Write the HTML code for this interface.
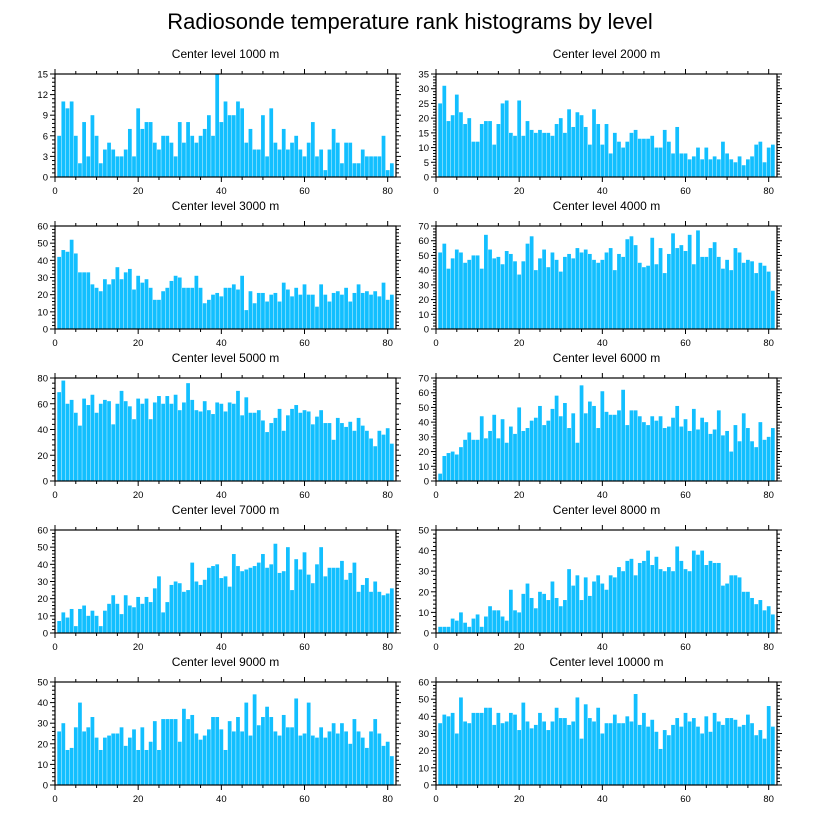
<!DOCTYPE html>
<html><head><meta charset="utf-8"><style>
body{margin:0;background:#fff;}
svg text{font-family:"Liberation Sans",sans-serif;fill:#000;}
</style></head><body>
<svg id="chart" width="816" height="824" xmlns="http://www.w3.org/2000/svg">
<text x="410" y="29" font-size="22" text-anchor="middle">Radiosonde temperature rank histograms by level</text>
</svg>
<script>
const levels = ["1000","2000","3000","4000","5000","6000","7000","8000","9000","10000"];
const yMaxes = [15,35,60,70,80,70,60,50,50,60];
const yMajors = [3,5,10,10,20,10,10,10,10,10];
const xTicks = [0,20,40,60,80];
const c1000 = [6,11,10,11,6,2,8,3,9,6,2,4,5,4,3,3,4,7,3,10,7,8,8,5,4,6,6,5,3,8,5,8,6,5,6,7,9,6,15,8,11,9,9,11,10,5,7,4,4,9,3,10,5,4,7,4,5,6,4,3,5,8,3,4,1,4,7,5,2,5,5,2,2,4,3,3,3,3,6,1,2];
const c2000 = [25,31,19,21,28,22,18,20,12,12,18,19,19,11,18,25,26,15,14,26,14,19,16,15,16,15,15,14,18,20,15,23,17,22,21,17,11,23,18,11,18,8,15,12,10,12,15,16,13,13,13,14,10,10,16,12,8,17,8,8,6,7,10,6,10,6,7,6,12,8,6,5,7,4,6,7,11,12,5,10,11];
const c3000 = [42,46,45,52,44,33,33,33,26,24,22,29,26,29,36,29,33,35,23,31,27,29,24,17,17,22,24,28,31,30,24,24,24,31,24,15,17,20,21,19,24,24,26,23,31,11,22,15,21,21,16,20,21,16,27,23,19,24,20,26,20,20,13,26,20,16,21,22,20,24,16,21,26,21,22,20,22,19,27,17,20];
const c4000 = [52,58,41,48,54,52,45,47,50,50,41,64,54,48,49,44,53,51,46,37,46,58,63,40,48,54,42,52,47,39,49,51,48,55,52,54,51,47,45,47,52,55,40,51,49,61,63,57,45,42,43,62,44,55,38,51,65,55,57,53,64,44,67,49,49,55,59,49,41,47,40,55,52,45,47,46,38,45,43,39,26];
const c5000 = [69,78,60,63,53,43,64,59,67,53,60,63,62,44,60,70,62,58,48,64,60,64,48,61,66,60,66,60,67,55,61,76,63,55,54,62,55,52,61,60,54,61,60,70,51,65,53,53,55,47,38,45,49,56,39,51,56,59,53,55,54,44,50,55,45,45,32,49,45,42,46,39,49,43,39,33,27,39,36,41,29];
const c6000 = [5,17,19,20,18,23,28,33,28,28,44,29,34,45,29,42,26,37,32,50,34,36,41,43,51,38,41,49,58,44,53,36,46,26,65,46,54,51,36,61,47,45,45,48,62,38,48,48,44,40,38,44,41,44,36,37,43,51,37,42,34,49,35,43,40,32,35,48,31,34,20,38,27,46,36,27,23,40,28,30,36];
const c7000 = [7,12,9,14,4,14,16,10,13,10,4,13,17,22,17,11,22,16,15,21,17,21,18,26,33,12,18,28,30,29,24,25,41,30,28,31,38,39,40,32,33,27,46,39,36,37,38,39,41,46,38,40,52,35,36,50,25,43,37,47,34,29,40,50,33,38,38,38,42,31,35,41,24,28,32,24,30,24,22,23,26];
const c8000 = [3,3,3,7,6,10,5,3,7,9,3,8,13,11,11,8,6,21,11,10,19,24,17,12,20,19,16,25,17,13,16,31,23,28,16,27,18,25,28,24,21,28,27,32,30,35,36,28,34,35,40,33,37,31,30,32,30,42,35,31,30,40,38,40,33,35,34,34,23,24,28,28,27,20,20,17,14,16,11,13,9];
const c9000 = [26,30,17,18,28,40,26,28,33,23,17,23,24,25,25,28,19,23,27,17,28,17,21,31,17,32,32,32,32,21,37,32,34,25,22,24,27,33,33,27,17,31,26,33,26,40,24,44,29,33,38,33,26,24,34,28,28,42,24,25,40,24,23,28,23,26,30,25,30,26,20,32,26,23,18,26,32,25,19,21,14];
const c10000 = [36,41,40,42,30,51,37,36,42,42,42,45,45,35,42,36,37,42,41,32,48,37,33,35,42,37,32,37,45,39,39,35,37,51,27,47,39,37,45,30,36,36,41,36,36,40,37,53,35,42,34,38,31,21,32,29,35,39,34,42,37,39,34,30,40,31,42,37,35,39,39,38,34,35,41,36,29,32,27,46,34];
const seriesList = [c1000,c2000,c3000,c4000,c5000,c6000,c7000,c8000,c9000,c10000];

const NS="http://www.w3.org/2000/svg";
const svg=document.getElementById('chart');
function mk(tag,attrs,parent){const e=document.createElementNS(NS,tag);for(const k in attrs)e.setAttribute(k,attrs[k]);(parent||svg).appendChild(e);return e;}
const PW=341, PH=103, XMAX=82;
for(let p=0;p<10;p++){
  const col=p%2,row=Math.floor(p/2);
  const L=col?436:55, T=74+row*152;
  const g=mk('g',{});
  
  
  const ymax=yMaxes[p], maj=yMajors[p], data=seriesList[p];
  const xs=v=>L+v/XMAX*PW, ys=v=>T+PH-v/ymax*PH;
  const t=mk('text',{x:L+PW/2,y:T-16,'font-size':12,'text-anchor':'middle'},g);
  t.textContent='Center level '+levels[p]+' m';
  
  
  data.forEach((v,i)=>{
    const x=i+1;
    const r=mk('rect',{x:xs(x-0.45),y:ys(v),width:xs(0.9)-xs(0),height:ys(0)-ys(v),fill:'#12BFFF'},g);
    
    
  });
  mk('rect',{x:L,y:T,width:PW,height:PH,fill:'none',stroke:'#000','stroke-width':1.2},g);
  for(let v=0;v<=80;v+=5){
    const len=(v%20===0)?5:3, X=xs(v);
    mk('line',{x1:X,x2:X,y1:T+PH,y2:T+PH+len,stroke:'#000','stroke-width':1},g);
    mk('line',{x1:X,x2:X,y1:T,y2:T-len,stroke:'#000','stroke-width':1},g);
  }
  xTicks.forEach(v=>{
    const tl=mk('text',{x:xs(v),y:T+PH+17,'font-size':9.5,'text-anchor':'middle'},g);
    tl.textContent=v;
    
    
  });
  const step=maj/5;
  for(let k=0;k*step<=ymax+1e-9;k++){
    const v=k*step, Y=ys(v), isMaj=(k%5===0), len=isMaj?5:3;
    mk('line',{x1:L-len,x2:L,y1:Y,y2:Y,stroke:'#000','stroke-width':1},g);
    mk('line',{x1:L+PW,x2:L+PW+len,y1:Y,y2:Y,stroke:'#000','stroke-width':1},g);
    if(isMaj){
      const yl=mk('text',{x:L-7,y:Y+3.5,'font-size':9.5,'text-anchor':'end'},g);
      yl.textContent=Math.round(v);
      
      
    }
  }
}
</script>
</body></html>
